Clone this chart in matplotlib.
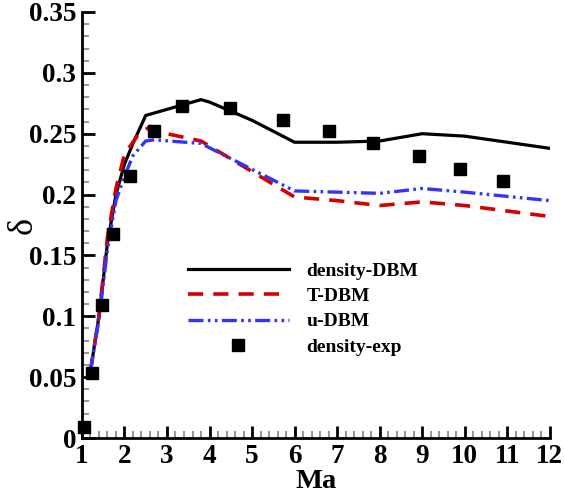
import matplotlib
matplotlib.use("Agg")
import matplotlib.pyplot as plt
from matplotlib.ticker import MultipleLocator

plt.rcParams['font.family'] = ['Liberation Serif', 'DejaVu Serif']
plt.rcParams['font.weight'] = 'bold'

# density-DBM
ma_den = [1.2, 1.4, 1.6, 1.8, 2.0, 2.2, 2.5, 3.0, 3.5, 3.8, 4.0, 5.0, 6.0, 7.0, 8.0, 9.0, 10.0, 11.0, 12.0]
d_den = [0.055, 0.100, 0.160, 0.200, 0.225, 0.242, 0.265, 0.270, 0.275, 0.278, 0.276, 0.261, 0.243, 0.243, 0.244, 0.250, 0.248, 0.243, 0.238]
# T-DBM
ma_T = [1.2, 1.4, 1.6, 1.8, 2.0, 2.3, 2.6, 3.0, 3.8, 6.0, 7.0, 8.0, 9.0, 10.0, 12.0]
d_T = [0.055, 0.100, 0.165, 0.205, 0.233, 0.248, 0.256, 0.250, 0.244, 0.198, 0.195, 0.191, 0.194, 0.191, 0.182]
# u-DBM
ma_u = [1.2, 1.4, 1.6, 1.8, 2.0, 2.2, 2.5, 2.7, 3.8, 6.0, 7.0, 8.0, 9.0, 10.0, 12.0]
d_u = [0.055, 0.097, 0.155, 0.195, 0.215, 0.232, 0.244, 0.245, 0.242, 0.203, 0.202, 0.201, 0.205, 0.202, 0.195]
# density-exp
ma_exp = [1.06, 1.23, 1.47, 1.73, 2.13, 2.69, 3.36, 4.48, 5.73, 6.81, 7.85, 8.93, 9.89, 10.9]
d_exp = [0.009, 0.053, 0.109, 0.168, 0.215, 0.252, 0.273, 0.271, 0.261, 0.252, 0.242, 0.232, 0.221, 0.211]

fig = plt.figure(figsize=(5.65, 5.0), dpi=100)
ax = fig.add_axes([0.145, 0.124, 0.828, 0.852])

ax.plot(ma_den, d_den, color='black', lw=2.3, label='density-DBM')
ax.plot(ma_T, d_T, color='#d40000', lw=2.6, dashes=(4.2, 2.8), label='T-DBM')
ax.plot(ma_u, d_u, color='#3333ff', lw=2.4, dashes=(4.5, 1.3, 0.8, 1.3, 0.8, 1.3), label='u-DBM')
ax.plot(ma_exp, d_exp, linestyle='none', marker='s', ms=9, color='black', label='density-exp',
        clip_on=False, zorder=5)

ax.set_xlim(1, 12)
ax.set_ylim(0, 0.35)
ax.xaxis.set_major_locator(MultipleLocator(1))
ax.xaxis.set_minor_locator(MultipleLocator(0.2))
ax.yaxis.set_major_locator(MultipleLocator(0.05))
ax.yaxis.set_minor_locator(MultipleLocator(0.01))

ax.spines['top'].set_visible(False)
ax.spines['right'].set_visible(False)
for s in ('left', 'bottom'):
    ax.spines[s].set_linewidth(2)

ax.tick_params(which='major', direction='in', length=9, width=2, labelsize=19.5, pad=4)
ax.tick_params(which='minor', direction='in', length=5, width=1.5, color='#999999')

def fmt(v, p):
    s = f"{v:.2f}".rstrip('0').rstrip('.')
    return s
ax.yaxis.set_major_formatter(plt.FuncFormatter(fmt))
ax.xaxis.set_major_formatter(plt.FuncFormatter(lambda v, p: f"{int(round(v))}"))
for lab in ax.get_xticklabels() + ax.get_yticklabels():
    lab.set_fontweight('bold')

ax.set_xlabel('Ma', fontsize=20.5, fontweight='bold', labelpad=0)
fig.text(23 / 565, 1 - 225 / 500, 'δ', rotation=90, ha='center', va='center',
         fontsize=26, fontweight='normal')

leg = ax.legend(loc='center left', bbox_to_anchor=(0.226, 0.303), frameon=False,
                handlelength=5.2, handletextpad=0.9, labelspacing=0.4,
                borderpad=0, borderaxespad=0,
                prop={'weight': 'bold', 'size': 14})

fig.savefig('out.png', dpi=100)
